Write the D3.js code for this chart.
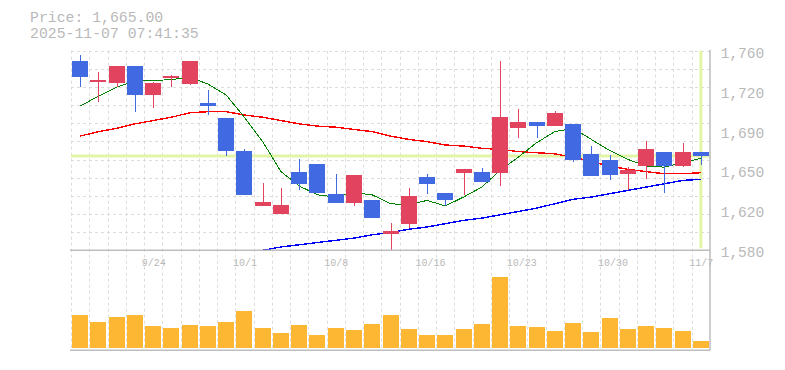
<!DOCTYPE html>
<html>
<head>
<meta charset="utf-8">
<script src="https://cdn.jsdelivr.net/npm/d3@7"></script>
<style>
  body { margin: 0; background: #fff; }
  svg { display: block; }
  text { font-family: "Liberation Mono", "DejaVu Sans Mono", monospace; fill: #b9b9b9; }
</style>
</head>
<body>
<div id="chart"></div>
<script>
// trading days shown on the chart
const dates = ['9/17','9/18','9/19','9/22','9/24','9/25','9/26','9/29','9/30','10/1',
  '10/2','10/3','10/6','10/7','10/8','10/9','10/10','10/14','10/15','10/16',
  '10/17','10/20','10/21','10/22','10/23','10/24','10/27','10/28','10/29','10/30',
  '10/31','11/4','11/5','11/6','11/7']
const labelDates = ['9/24','10/1','10/8','10/16','10/23','10/30','11/7']

const open  = [1751,1732,1731,1746,1720,1735,1730,1713,1699,1670,1620,1613,1651,1658,1631,1623,1625,1595,1604,1646,
  1632,1650,1651,1650,1690,1696,1692,1694,1667,1661,1649,1656,1669,1656,1669]
const high  = [1756,1741,1746,1746,1732,1738,1751,1725,1699,1671,1641,1636,1662,1658,1649,1648,1625,1605,1636,1649,
  1632,1653,1654,1751,1707,1696,1706,1694,1674,1666,1655,1679,1669,1677,1669]
const low   = [1727,1714,1727,1705,1708,1727,1729,1702,1665,1630,1620,1613,1634,1632,1623,1620,1609,1580,1600,1631,
  1620,1630,1642,1638,1681,1681,1692,1660,1647,1643,1634,1644,1632,1655,1657]
const close = [1736,1734,1746,1720,1731,1737,1751,1710,1670,1630,1624,1621,1640,1632,1623,1648,1609,1597,1629,1640,
  1625,1653,1642,1700,1696,1692,1704,1661,1647,1648,1652,1671,1656,1669,1665]

// moving averages (null = off the chart)
const ma5  = [1710,1719,1727,1733,1733,1734,1736,1730,1720,1700,1678,1651,1638,1630,1628,1632,1630,1622,1621,1625,
  1620,1628,1637,1652,1664,1677,1687,1690,1680,1670,1662,1656,1655,1659,1663]
const ma25 = [1683,1687,1690,1694,1697,1700,1704,1705,1705,1702,1700,1697,1694,1692,1691,1689,1687,1683,1680,1678,
  1675,1674,1672,1671,1669,1668,1667,1664,1660,1656,1653,1651,1649,1649,1650]
const ma75 = [null,null,null,null,null,null,null,null,null,null,1580,1583,1585,1587,1589,1591,1594,1596,1599,1601,
  1604,1607,1609,1612,1615,1618,1622,1626,1628,1631,1634,1637,1640,1643,1644]

const volume = [990,780,930,990,660,600,690,660,780,1110,600,450,690,390,600,540,720,990,570,390,
  390,570,720,2130,660,630,510,750,480,900,570,660,600,510,210]

const yTickValues = [1760,1724,1688,1652,1616,1580]
const yTickLabels = ['1,760','1,720','1,690','1,650','1,620','1,580']

const lastPrice = 1665
const titleLines = ['Price: 1,665.00', '2025-11-07 07:41:35']

const width = 785, height = 370
const plot = { left: 71, right: 710, top: 50.7, bottom: 250.3 }
const vol = { top: 268, bottom: 348, frame: 350.3 }

const svg = d3.select('#chart').append('svg')
  .attr('width', width)
  .attr('height', height)

const x = d3.scaleBand().domain(d3.range(dates.length)).range([plot.left, plot.right]).padding(0)
const y = d3.scaleLinear().domain([1580, 1760]).range([plot.bottom, plot.top])
const yv = d3.scaleLinear().domain([0, 2400]).range([vol.bottom, vol.top])
const cx = i => x(i) + x.bandwidth() / 2
const bodyW = 16

// title
svg.selectAll('.title').data(titleLines).enter().append('text')
  .attr('x', 30)
  .attr('y', (d, i) => 22 + i * 16)
  .attr('font-size', 14.8)
  .text(d => d)

// grid
const grid = svg.append('g').attr('stroke', '#dcdcdc').attr('stroke-dasharray', '3,3').attr('stroke-width', 1)
const hVals = d3.range(11).map(k => 1580 + (k + 1) * 180 / 11)
grid.selectAll('.hg').data(hVals).enter().append('line')
  .attr('x1', plot.left).attr('x2', plot.right)
  .attr('y1', d => Math.round(y(d)) + 0.5).attr('y2', d => Math.round(y(d)) + 0.5)
grid.selectAll('.vg').data(d3.range(dates.length)).enter().append('line')
  .attr('x1', d => Math.round(x(d)) + 0.5).attr('x2', d => Math.round(x(d)) + 0.5)
  .attr('y1', plot.top).attr('y2', vol.frame)

// current price markers
svg.append('line')
  .attr('x1', plot.left).attr('x2', plot.right)
  .attr('y1', y(lastPrice)).attr('y2', y(lastPrice))
  .attr('stroke', '#e2f5a6').attr('stroke-width', 3)
svg.append('line')
  .attr('x1', cx(dates.length - 1)).attr('x2', cx(dates.length - 1))
  .attr('y1', plot.top).attr('y2', plot.bottom - 2)
  .attr('stroke', '#e2f5a6').attr('stroke-width', 3)

// moving averages
svg.append('clipPath').attr('id', 'clip').append('rect')
  .attr('x', plot.left).attr('y', plot.top).attr('width', plot.right - plot.left).attr('height', plot.bottom - plot.top)
const maLine = d3.line().defined(d => d != null).x((d, i) => cx(i)).y(d => y(d))
const mas = [
  { data: ma25, color: '#ff0000', w: 1.4 },
  { data: ma75, color: '#0000ff', w: 1.4 },
  { data: ma5, color: '#008000', w: 1 },
]
svg.append('g').attr('clip-path', 'url(#clip)')
  .selectAll('path').data(mas).enter().append('path')
  .attr('d', d => maLine(d.data))
  .attr('fill', 'none')
  .attr('stroke', d => d.color)
  .attr('stroke-width', d => d.w)
  .attr('shape-rendering', 'crispEdges')

// candles
const up = '#e2445f', down = '#4169e1'
const candles = svg.append('g').selectAll('g').data(dates).enter().append('g')
  .attr('shape-rendering', 'crispEdges')
candles.append('line')
  .attr('x1', (d, i) => Math.round(cx(i)) + 0.5).attr('x2', (d, i) => Math.round(cx(i)) + 0.5)
  .attr('y1', (d, i) => y(high[i])).attr('y2', (d, i) => y(low[i]))
  .attr('stroke', (d, i) => close[i] >= open[i] ? up : down)
  .attr('stroke-width', 1)
candles.append('rect')
  .attr('x', (d, i) => Math.round(cx(i) - bodyW / 2))
  .attr('width', bodyW)
  .attr('y', (d, i) => y(Math.max(open[i], close[i])))
  .attr('height', (d, i) => Math.max(1.5, Math.abs(y(open[i]) - y(close[i]))))
  .attr('fill', (d, i) => close[i] >= open[i] ? up : down)

// volume
svg.append('g').selectAll('rect').data(volume).enter().append('rect')
  .attr('x', (d, i) => Math.round(cx(i) - bodyW / 2))
  .attr('width', bodyW)
  .attr('y', d => yv(d))
  .attr('height', d => vol.bottom - yv(d))
  .attr('fill', '#fdb733')

// frame lines
const frame = svg.append('g').attr('stroke', '#bdbdbd').attr('stroke-width', 1.5)
frame.append('line').attr('x1', plot.left - 1).attr('x2', plot.right).attr('y1', plot.bottom).attr('y2', plot.bottom)
frame.append('line').attr('x1', plot.left - 1).attr('x2', plot.right).attr('y1', vol.frame).attr('y2', vol.frame)
frame.append('line').attr('x1', plot.right).attr('x2', plot.right).attr('y1', plot.top - 1).attr('y2', vol.frame)

// price axis labels
svg.selectAll('.ylab').data(yTickValues).enter().append('text')
  .attr('x', 720.7)
  .attr('y', d => y(d) + 7)
  .attr('font-size', 14.5)
  .text((d, i) => yTickLabels[i])

// date labels
svg.selectAll('.xlab').data(dates.map((d, i) => ({ d, i })).filter(o => labelDates.includes(o.d)))
  .enter().append('text')
  .attr('x', o => cx(o.i) - 11.5)
  .attr('y', 266)
  .attr('font-size', 10)
  .text(o => o.d)
</script>
</body>
</html>
